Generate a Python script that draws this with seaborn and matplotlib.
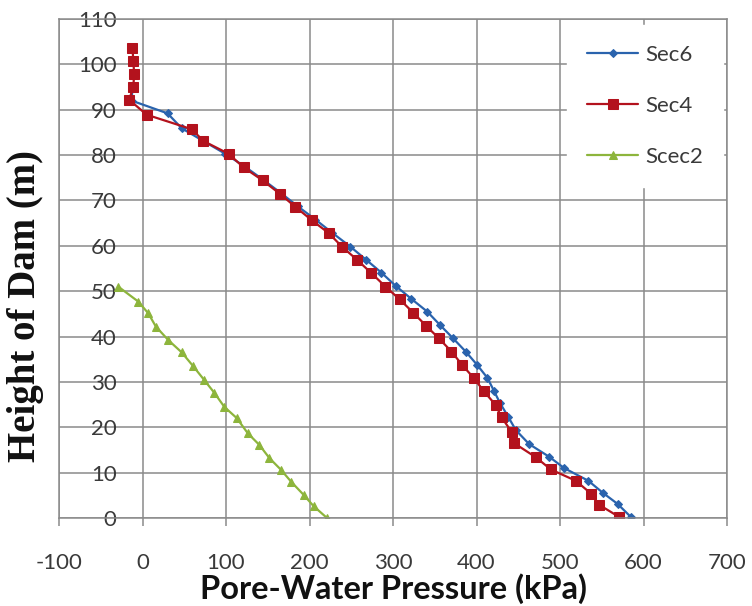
import matplotlib
matplotlib.use("Agg")
import matplotlib.pyplot as plt
import seaborn as sns
import pandas as pd

# Pore-water pressure (kPa) against height in the dam (m) for three sections
sec6_pressure = [-12, -13, 30, 47, 72, 99, 123, 145, 166, 186, 207, 227, 249,
                 268, 286, 303, 322, 341, 356, 372, 387, 401, 413, 421, 428,
                 438, 447, 463, 487, 505, 534, 551, 569, 585]
sec6_height = [95.0, 92.0, 89.2, 85.9, 83.2, 80.3, 77.4, 74.5, 71.6, 68.7,
               65.8, 62.9, 59.8, 56.9, 54.1, 51.2, 48.3, 45.5, 42.6, 39.6,
               36.7, 33.7, 30.9, 28.0, 25.4, 22.3, 19.4, 16.3, 13.5, 11.0,
               8.2, 5.6, 3.1, 0.2]

sec4_pressure = [-12, -11, -10, -11, -16, 5, 59, 73, 103, 121, 144, 165, 183,
                 203, 223, 239, 257, 274, 291, 308, 324, 340, 355, 370, 383,
                 397, 409, 423, 430, 442, 445, 471, 489, 519, 537, 547, 571]
sec4_height = [103.5, 100.8, 97.9, 95.0, 92.2, 88.9, 85.7, 83.1, 80.3, 77.3,
               74.4, 71.4, 68.6, 65.6, 62.8, 59.8, 56.9, 54.0, 51.0, 48.2,
               45.3, 42.3, 39.6, 36.7, 33.7, 30.8, 27.9, 24.9, 22.2, 19.0,
               16.5, 13.4, 10.7, 8.2, 5.4, 2.9, 0.2]

scec2_pressure = [-29, -5, 7, 16, 31, 47, 61, 74, 86, 98, 113, 126, 140, 152,
                  166, 178, 193, 205, 221]
scec2_height = [51.0, 47.7, 45.1, 42.2, 39.2, 36.5, 33.4, 30.4, 27.6, 24.5,
                22.0, 18.7, 16.1, 13.2, 10.6, 8.0, 5.1, 2.6, 0.0]

x_ticks = [-100, 0, 100, 200, 300, 400, 500, 600, 700]
y_ticks = [0, 10, 20, 30, 40, 50, 60, 70, 80, 90, 100, 110]

sns.set_theme(style="white")
plt.rcParams["font.family"] = ["Lato", "DejaVu Sans"]
plt.rcParams["axes.unicode_minus"] = False

fig = plt.figure(figsize=(7.52, 6.06), dpi=100)
ax = fig.add_axes([59 / 752, 88 / 606, 668 / 752, 499 / 606])

series = [
    ("Sec6", sec6_pressure, sec6_height, "#2a63ad", "D", 4.5),
    ("Sec4", sec4_pressure, sec4_height, "#b3121d", "s", 7.5),
    ("Scec2", scec2_pressure, scec2_height, "#8db53c", "^", 5.5),
]
for name, px, hy, color, marker, msize in series:
    df = pd.DataFrame({"pressure": px, "height": hy})
    sns.lineplot(data=df, x="pressure", y="height", sort=False,
                 estimator=None, color=color, marker=marker,
                 markersize=msize, markeredgecolor=color, linewidth=1.6,
                 label=name, ax=ax)

ax.set_xlim(-100, 700)
ax.set_ylim(0, 110)
ax.set_xticks(x_ticks)
ax.set_yticks(y_ticks)
ax.grid(True, color="#8a8a8a", linewidth=1.1)
ax.set_axisbelow(True)
for sp in ax.spines.values():
    sp.set_color("#8a8a8a")
    sp.set_linewidth(1.1)

ax.tick_params(axis="x", which="both", bottom=True, length=6, width=1.1,
               color="#8a8a8a", pad=19, labelsize=16, labelcolor="#3a3a3a")
ax.tick_params(axis="y", which="both", left=False, length=0, pad=-41.5,
               labelsize=16, labelcolor="#3a3a3a")
for lab in ax.get_yticklabels():
    lab.set_zorder(5)

ax.set_xlabel("Pore-Water Pressure (kPa)", fontsize=23.5, fontweight="bold",
              color="#111111")
ax.xaxis.label.set_va("center")
ax.xaxis.set_label_coords(0.5, -0.142)
ax.set_ylabel("Height of Dam (m)", fontsize=28, fontweight="bold",
              family="Liberation Serif", color="#111111")
ax.yaxis.label.set_va("center")
ax.yaxis.set_label_coords(-0.050, 0.425)

leg = ax.legend(loc="upper right", bbox_to_anchor=(0.994, 0.988),
                borderaxespad=0, frameon=True, fancybox=False,
                facecolor="white", edgecolor="white", framealpha=1,
                fontsize=16, labelspacing=1.4, handlelength=2.3,
                handletextpad=0.3, borderpad=0.9)
for t in leg.get_texts():
    t.set_color("#3a3a3a")

fig.savefig("out.png", dpi=100, facecolor="white")
